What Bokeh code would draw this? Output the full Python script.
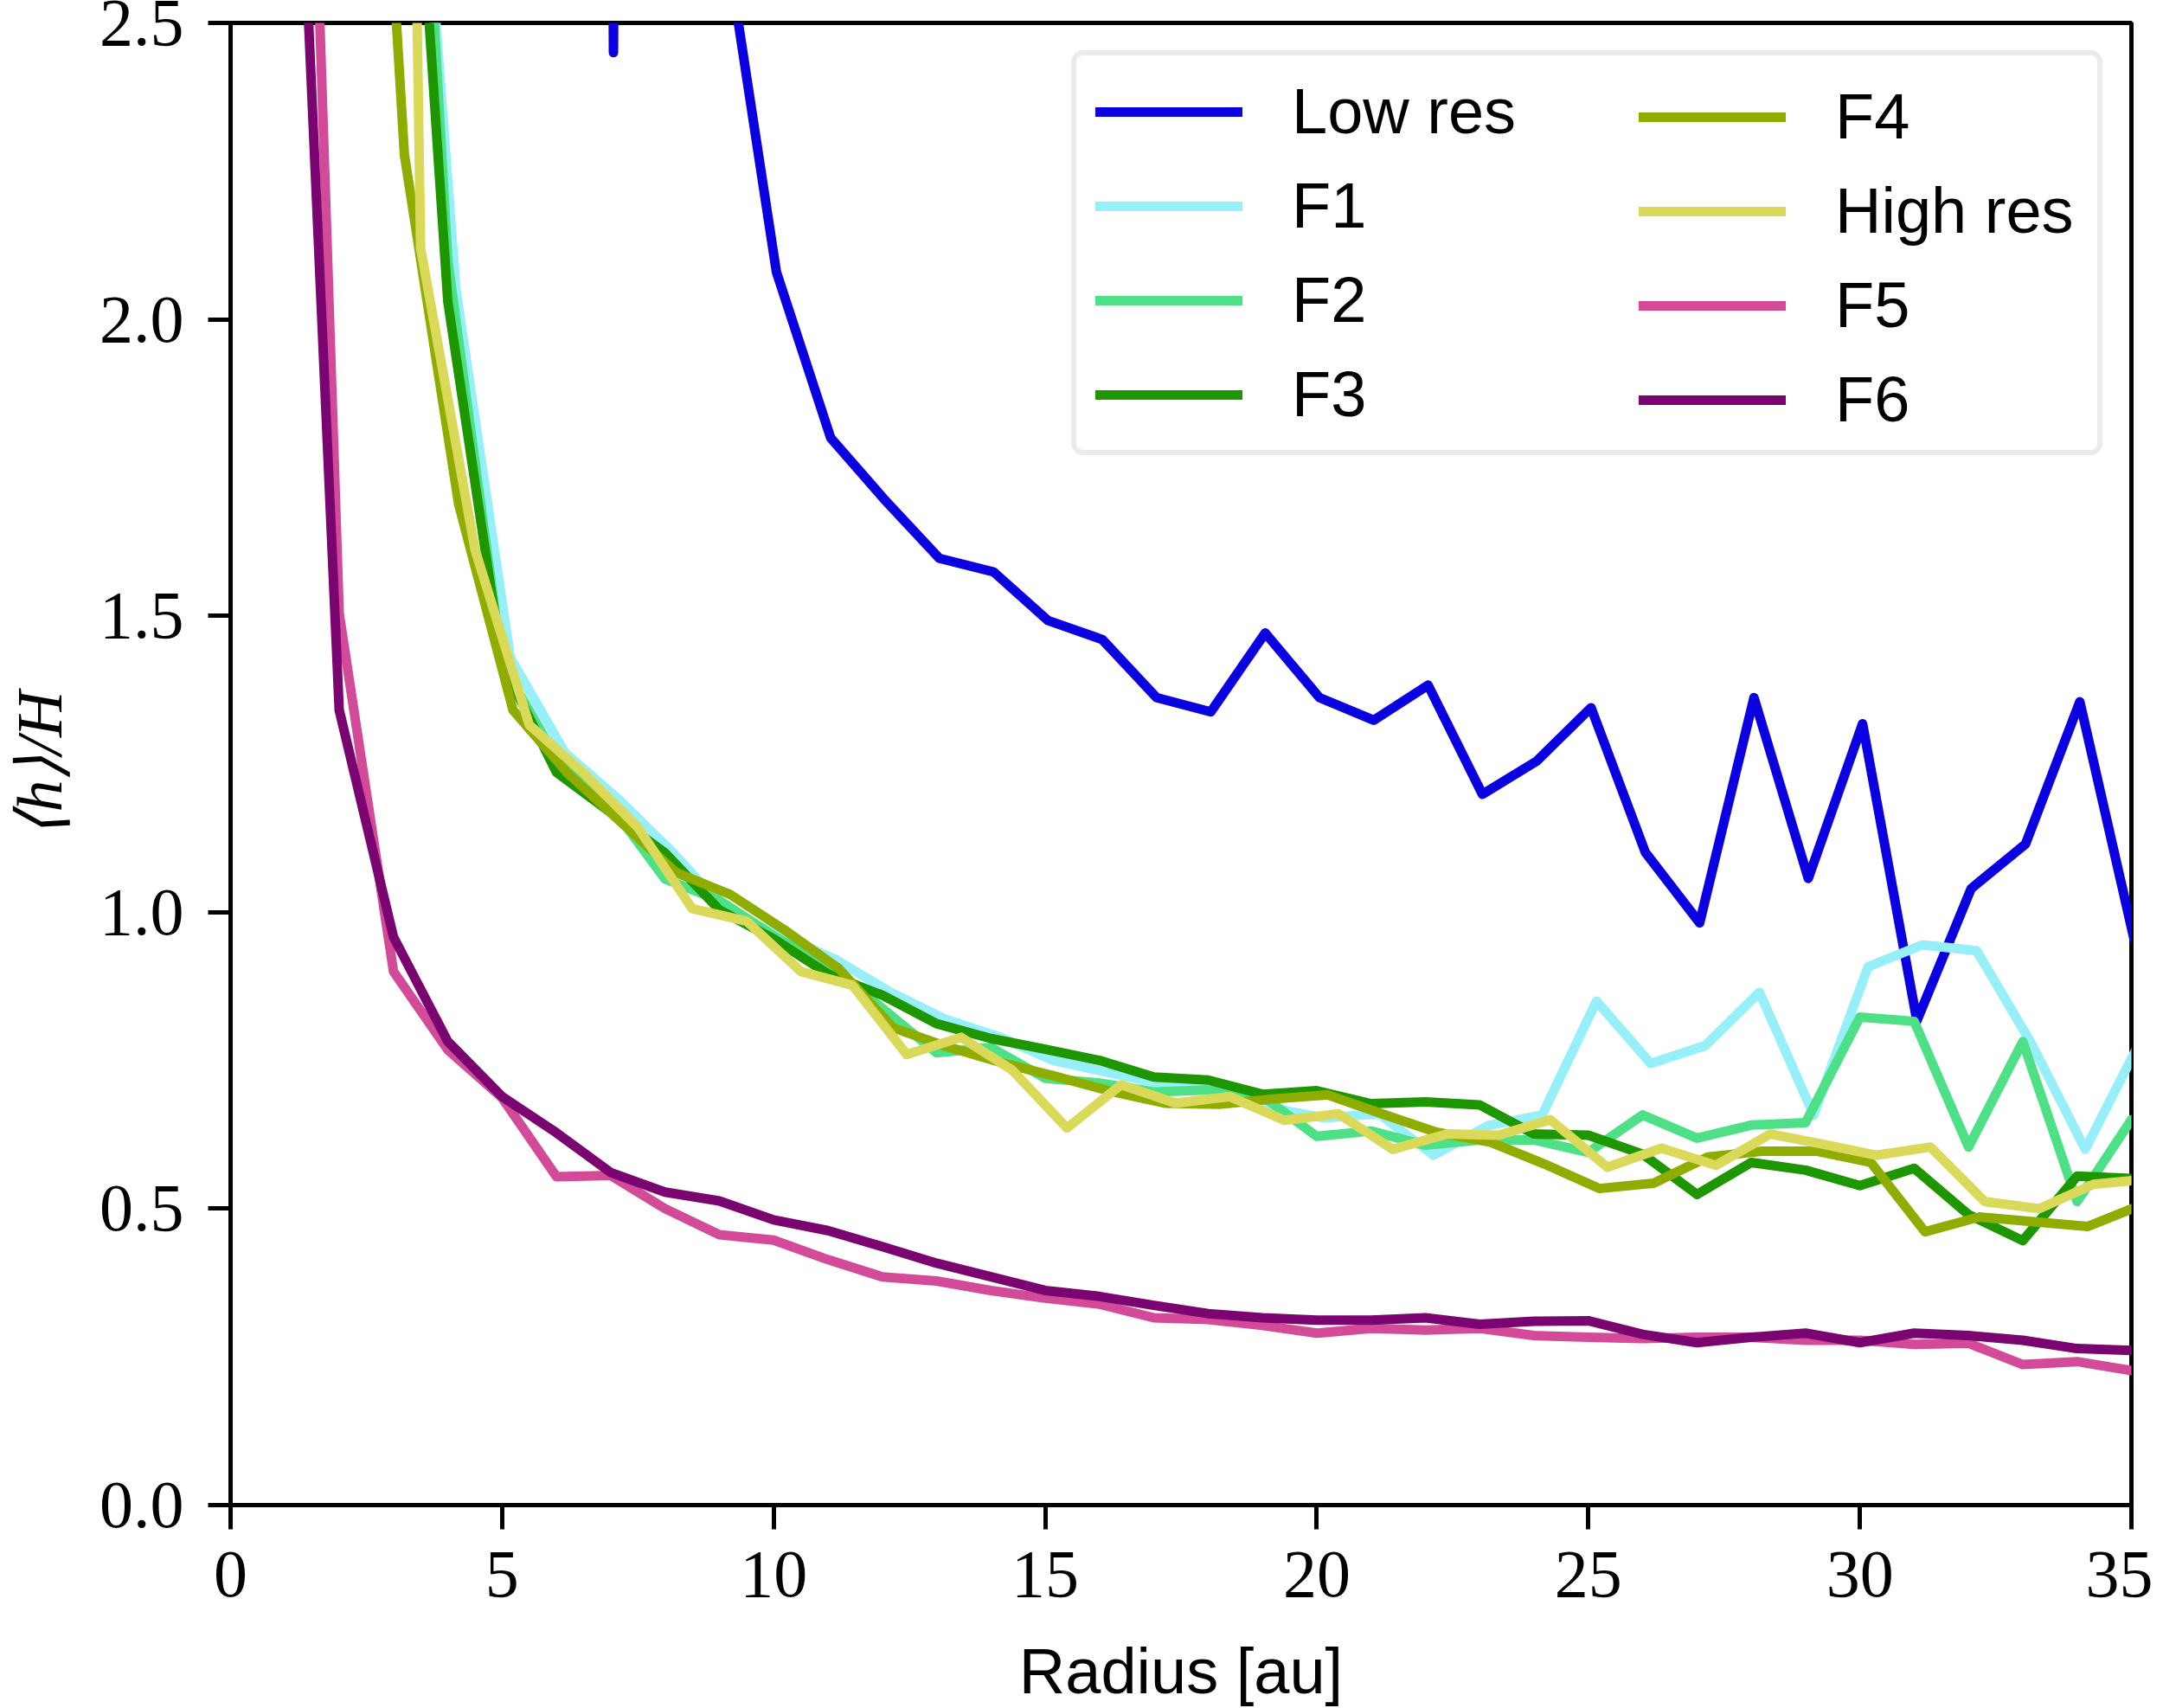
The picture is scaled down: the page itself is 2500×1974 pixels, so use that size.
from bokeh.plotting import figure
from bokeh.models import Range1d, Legend, LegendItem, FixedTicker, PrintfTickFormatter
from bokeh.embed import file_html
from bokeh.resources import INLINE

# ---------------- data ----------------
x_ticks = [0, 5, 10, 15, 20, 25, 30, 35]
y_ticks = [0.0, 0.5, 1.0, 1.5, 2.0, 2.5]

r_low = [1.05, 2.05, 3.05, 4.05, 5.05, 6.05, 7.05, 8.05, 9.05, 10.05, 11.05, 12.05,
         13.05, 14.05, 15.05, 16.05, 17.05, 18.05, 19.05, 20.05, 21.05, 22.05, 23.05,
         24.05, 25.05, 26.05, 27.05, 28.05, 29.05, 30.05, 31.05, 32.05, 33.05, 34.05, 35.05]
r_base = [1, 2, 3, 4, 5, 6, 7, 8, 9, 10, 11, 12, 13, 14, 15, 16, 17, 18, 19, 20,
          21, 22, 23, 24, 25, 26, 27, 28, 29, 30, 31, 32, 33, 34, 35]
r_f1 = [1.15, 2.15, 3.15, 4.15, 5.15, 6.15, 7.15, 8.15, 9.15, 10.15, 11.15, 12.15,
        13.15, 14.15, 15.15, 16.15, 17.15, 18.15, 19.15, 20.15, 21.15, 22.15, 23.15,
        24.15, 25.15, 26.15, 27.15, 28.15, 29.15, 30.15, 31.15, 32.15, 33.15, 34.15, 35.15]
r_f4 = [1.2, 2.2, 3.2, 4.2, 5.2, 6.2, 7.2, 8.2, 9.2, 10.2, 11.2, 12.2, 13.2, 14.2,
        15.2, 16.2, 17.2, 18.2, 19.2, 20.2, 21.2, 22.2, 23.2, 24.2, 25.2, 26.2, 27.2,
        28.2, 29.2, 30.2, 31.2, 32.2, 33.2, 34.2, 35.2]
r_high = [1.5, 2.5, 3.5, 4.5, 5.5, 6.5, 7.5, 8.5, 9.5, 10.5, 11.45, 12.45, 13.45,
          14.4, 15.4, 16.4, 17.4, 18.4, 19.4, 20.4, 21.4, 22.4, 23.35, 24.3, 25.35,
          26.35, 27.35, 28.35, 29.3, 30.3, 31.3, 32.3, 33.3, 34.3, 35.3]

low_res = [12.0, 10.0, 9.0, 8.0, 7.0, 20.0, 2.45, 20.0, 2.68, 2.08, 1.80, 1.695,
           1.597, 1.574, 1.492, 1.46, 1.362, 1.338, 1.471, 1.362, 1.324, 1.383, 1.199,
           1.255, 1.345, 1.101, 0.982, 1.362, 1.057, 1.318, 0.817, 1.04, 1.115, 1.355, 0.954]
f1 = [12.0, 8.0, 3.27, 2.05, 1.43, 1.27, 1.19, 1.10, 1.0, 0.96, 0.92, 0.865, 0.82,
      0.79, 0.75, 0.73, 0.71, 0.705, 0.67, 0.653, 0.66, 0.59, 0.64, 0.658, 0.85, 0.745,
      0.775, 0.865, 0.658, 0.908, 0.945, 0.935, 0.78, 0.60, 0.78]
f2 = [12.0, 8.0, 3.7, 2.1, 1.42, 1.26, 1.18, 1.056, 1.02, 0.96, 0.91, 0.838, 0.763,
      0.772, 0.72, 0.712, 0.697, 0.70, 0.69, 0.622, 0.631, 0.607, 0.616, 0.616, 0.595,
      0.658, 0.619, 0.641, 0.645, 0.823, 0.816, 0.604, 0.782, 0.512, 0.65]
f3 = [12.0, 8.0, 3.4, 2.03, 1.42, 1.236, 1.168, 1.10, 1.004, 0.955, 0.896, 0.86, 0.812,
      0.787, 0.769, 0.75, 0.722, 0.717, 0.693, 0.699, 0.677, 0.68, 0.675, 0.626, 0.624,
      0.592, 0.524, 0.578, 0.565, 0.539, 0.568, 0.49, 0.446, 0.555, 0.551]
f4 = [12.0, 3.8, 2.278, 1.688, 1.341, 1.235, 1.151, 1.067, 1.03, 0.97, 0.905, 0.805,
      0.773, 0.746, 0.723, 0.698, 0.678, 0.676, 0.685, 0.692, 0.66, 0.629, 0.612, 0.575,
      0.534, 0.543, 0.587, 0.597, 0.597, 0.578, 0.461, 0.486, 0.478, 0.47, 0.507]
high_res = [20.0, 8.0, 2.12, 1.612, 1.316, 1.235, 1.143, 1.006, 0.985, 0.90, 0.877,
            0.76, 0.789, 0.733, 0.636, 0.709, 0.678, 0.689, 0.649, 0.66, 0.60, 0.626,
            0.624, 0.65, 0.57, 0.602, 0.573, 0.626, 0.609, 0.59, 0.604, 0.512, 0.50,
            0.541, 0.55]
f5 = [4.3, 1.504, 0.90, 0.768, 0.687, 0.554, 0.556, 0.50, 0.456, 0.447, 0.414, 0.385,
      0.378, 0.362, 0.349, 0.339, 0.316, 0.313, 0.303, 0.29, 0.298, 0.295, 0.298, 0.286,
      0.283, 0.281, 0.283, 0.283, 0.278, 0.278, 0.271, 0.273, 0.237, 0.242, 0.227]
f6 = [3.4, 1.341, 0.958, 0.782, 0.689, 0.628, 0.561, 0.528, 0.513, 0.481, 0.463, 0.436,
      0.408, 0.385, 0.362, 0.352, 0.337, 0.323, 0.316, 0.312, 0.312, 0.316, 0.305, 0.31,
      0.311, 0.288, 0.274, 0.283, 0.29, 0.274, 0.29, 0.286, 0.278, 0.264, 0.261]

series = [
    ("Low res", r_low, low_res, "#0a00e0"),
    ("F1", r_f1, f1, "#97f0f9"),
    ("F2", r_base, f2, "#4de087"),
    ("F3", r_base, f3, "#1d9600"),
    ("F4", r_f4, f4, "#8fad00"),
    ("High res", r_high, high_res, "#dad95a"),
    ("F5", r_base, f5, "#d34a98"),
    ("F6", r_base, f6, "#7a0470"),
]

# ---------------- figure ----------------
p = figure(frame_width=2197, frame_height=1713,
           min_border_left=266, min_border_right=25, min_border_top=26, min_border_bottom=190,
           x_range=Range1d(0, 35), y_range=Range1d(0, 2.5),
           output_backend="svg", toolbar_location=None,
           background_fill_color="white", border_fill_color="white")

p.xgrid.visible = False
p.ygrid.visible = False
p.outline_line_color = "black"
p.outline_line_width = 5
p.outline_line_alpha = 1.0

for ax in (p.xaxis[0], p.yaxis[0]):
    ax.axis_line_width = 5
    ax.axis_line_color = "black"
    ax.major_tick_line_width = 5
    ax.major_tick_line_color = "black"
    ax.major_tick_in = 0
    ax.minor_tick_line_color = None
    ax.major_label_text_font = "Liberation Serif"
    ax.major_label_text_font_size = "78px"
    ax.major_label_text_color = "black"
    ax.axis_label_text_color = "black"

p.xaxis.ticker = FixedTicker(ticks=x_ticks)
p.yaxis.ticker = FixedTicker(ticks=y_ticks)
p.yaxis.formatter = PrintfTickFormatter(format="%.1f")
p.xaxis.major_tick_out = 28
p.yaxis.major_tick_out = 26
p.xaxis.major_label_standoff = 26
p.yaxis.major_label_standoff = 28

p.xaxis.axis_label = "Radius [au]"
p.xaxis.axis_label_text_font = "Liberation Sans"
p.xaxis.axis_label_text_font_style = "normal"
p.xaxis.axis_label_text_font_size = "74px"
p.xaxis.axis_label_standoff = 42

p.yaxis.axis_label = "\u27e8h\u27e9/H"
p.yaxis.axis_label_text_font = "Liberation Serif"
p.yaxis.axis_label_text_font_style = "italic"
p.yaxis.axis_label_text_font_size = "74px"
p.yaxis.axis_label_standoff = 25

renderers = []
for name, xs, ys, col in series:
    r = p.line(xs, ys, line_width=11, line_color=col, line_join="round", line_cap="round")
    renderers.append((name, r))

def make_legend(items, loc, framed):
    lg = Legend(items=[LegendItem(label=n, renderers=[r]) for n, r in items],
                location=loc, orientation="vertical",
                glyph_width=170, glyph_height=80, label_height=80,
                label_standoff=57, spacing=24, padding=22, margin=0,
                label_text_font="Liberation Sans", label_text_font_size="74px",
                label_text_color="black", label_text_baseline="middle",
                border_line_color="#d6dada", border_line_width=6,
                background_fill_color="white")
    try:
        lg.border_radius = 14
    except Exception:
        pass
    if framed:
        lg.label_width = 909
        lg.background_fill_alpha = 0.8
    else:
        lg.border_line_alpha = 0.0
        lg.background_fill_alpha = 0.0
    return lg

leg_a = make_legend(renderers[:4], (972, 1213), True)
leg_b = make_legend(renderers[4:], (1606, 1213), False)
p.add_layout(leg_a)
p.add_layout(leg_b)

open("out.html", "w").write(file_html(p, INLINE))
